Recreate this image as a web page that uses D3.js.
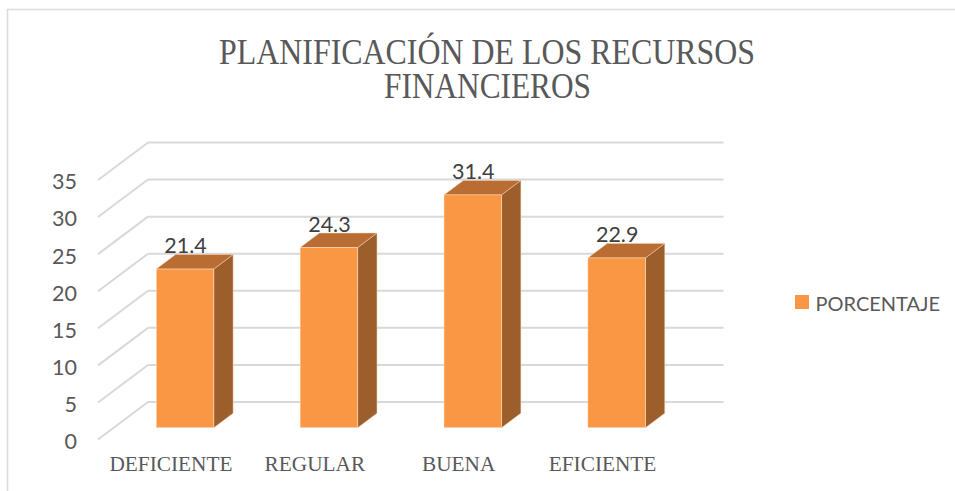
<!DOCTYPE html>
<html>
<head>
<meta charset="utf-8">
<title>Planificación de los recursos financieros</title>
<style>
html, body { margin: 0; padding: 0; background: #fff; overflow: hidden; }
svg { display: block; }
.grid line { stroke: #d9d9d9; stroke-width: 2px; fill: none; }
.axis path, .axis line { display: none; }
.axis--y text { font: 21.5px Lato, sans-serif; fill: #595959; }
.axis--x text { font: 21.3px "Liberation Serif", serif; fill: #595959; }
.title { font: 35px "Liberation Serif", serif; fill: #595959; text-anchor: middle; }
.label { font: 21.5px Lato, sans-serif; fill: #404040; text-anchor: middle; }
.legend text { font: 20px Lato, sans-serif; fill: #595959; }
</style>
</head>
<body>
<svg width="955" height="491"></svg>
<script src="https://d3js.org/d3.v7.min.js"></script>
<script>
var categories = ["DEFICIENTE", "REGULAR", "BUENA", "EFICIENTE"];
var values = [21.4, 24.3, 31.4, 22.9];
var yTicks = [0, 5, 10, 15, 20, 25, 30, 35];
var seriesName = "PORCENTAJE";
var titleLines = ["PLANIFICACIÓN DE LOS RECURSOS", "FINANCIEROS"];
var titleWidths = [536, 207];

var svg = d3.select("svg");

// picture frame, only left and top edges show
svg.append("path")
  .attr("d", "M7.5,491V9.5H955")
  .attr("fill", "none")
  .attr("stroke", "#dcdcdc")
  .attr("stroke-width", 1.5);

// the title is squeezed sideways in the original
svg.selectAll(".title")
  .data(titleLines)
  .enter().append("text")
    .attr("class", "title")
    .attr("x", function(d, i) { return i ? 487.5 : 487; })
    .attr("y", function(d, i) { return 63.5 + i * 34.5; })
    .attr("textLength", function(d, i) { return titleWidths[i]; })
    .attr("lengthAdjust", "spacingAndGlyphs")
    .text(function(d) { return d; });

// front edge of the floor, the depth offsets below go back from it
var x = d3.scaleBand()
  .domain(categories)
  .range([98, 673.5])
  .paddingInner(0.6)
  .paddingOuter(0.3);

var y = d3.scaleLinear()
  .domain([0, 35])
  .range([439.5, 180]);

var wallDx = 50, wallDy = -37.5;     // floor front -> back wall
var barDx = 15.1, barDy = -11.8;     // floor front -> bar face
var sideDx = 19.3, sideDy = -14.5;   // bar face -> bar back

var grid = svg.append("g").attr("class", "grid")
  .selectAll("g")
  .data(yTicks)
  .enter().append("g");

grid.append("line")
  .attr("x1", x.range()[0])
  .attr("y1", function(d) { return y(d); })
  .attr("x2", x.range()[0] + wallDx)
  .attr("y2", function(d) { return y(d) + wallDy; });

grid.append("line")
  .attr("x1", x.range()[0] + wallDx)
  .attr("y1", function(d) { return y(d) + wallDy; })
  .attr("x2", x.range()[1] + wallDx)
  .attr("y2", function(d) { return y(d) + wallDy; });

var bars = svg.append("g")
  .selectAll("g")
  .data(categories)
  .enter().append("g")
    .attr("transform", "translate(" + barDx + "," + barDy + ")");

function poly(pts) { return "M" + pts.join("L") + "Z"; }

// side
bars.append("path")
  .attr("fill", "#9c5f2b")
  .attr("stroke", "#f3d3b5")
  .attr("stroke-width", 0.5)
  .attr("d", function(d, i) {
    var r = x(d) + x.bandwidth();
    return poly([[r, y(values[i])], [r + sideDx, y(values[i]) + sideDy], [r + sideDx, y(0) + sideDy], [r, y(0)]]);
  });

// top
bars.append("path")
  .attr("fill", "#b96d33")
  .attr("stroke", "#f3d3b5")
  .attr("stroke-width", 0.5)
  .attr("d", function(d, i) {
    var l = x(d), r = l + x.bandwidth(), t = y(values[i]);
    return poly([[l, t], [l + sideDx, t + sideDy], [r + sideDx, t + sideDy], [r, t]]);
  });

// face
bars.append("rect")
  .attr("fill", "#fa9745")
  .attr("stroke", "#fde3cc")
  .attr("stroke-width", 0.5)
  .attr("x", function(d) { return x(d); })
  .attr("y", function(d, i) { return y(values[i]); })
  .attr("width", x.bandwidth())
  .attr("height", function(d, i) { return y(0) - y(values[i]); });

svg.append("g")
  .selectAll("text")
  .data(categories)
  .enter().append("text")
    .attr("class", "label")
    .attr("x", function(d) { return x(d) + x.bandwidth() / 2 + barDx + 0.5; })
    .attr("y", function(d, i) { return y(values[i]) + barDy - 16; })
    .text(function(d, i) { return values[i]; });

svg.append("g")
  .attr("class", "axis axis--y")
  .attr("transform", "translate(86,2)")
  .call(d3.axisLeft(y).tickValues(yTicks).tickSize(0).tickPadding(9));

svg.append("g")
  .attr("class", "axis axis--x")
  .attr("transform", "translate(1,456)")
  .call(d3.axisBottom(x).tickSize(0).tickPadding(0));

var legend = svg.append("g").attr("class", "legend");

legend.append("rect")
  .attr("x", 795)
  .attr("y", 295)
  .attr("width", 14)
  .attr("height", 14)
  .attr("fill", "#fa9745");

legend.append("text")
  .attr("x", 815.5)
  .attr("y", 310.5)
  .text(seriesName);
</script>
</body>
</html>
